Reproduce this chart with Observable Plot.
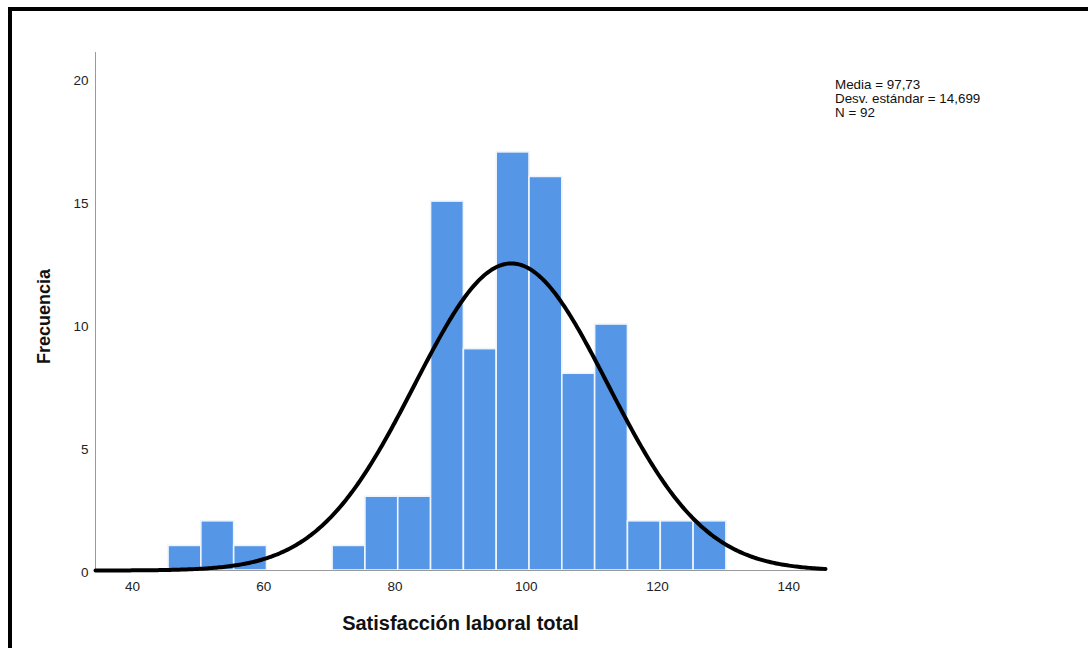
<!DOCTYPE html>
<html>
<head>
<meta charset="utf-8">
<script src="https://cdn.jsdelivr.net/npm/d3@7"></script>
<script src="https://cdn.jsdelivr.net/npm/@observablehq/plot@0.6"></script>
<style>
  html, body { margin: 0; padding: 0; background: white; }
  #wrap { position: relative; width: 1088px; height: 648px; overflow: hidden; }
  #frame { position: absolute; left: 8px; top: 7px; width: 1090px; height: 650px;
           border-top: 4px solid #000; border-left: 4px solid #000; pointer-events: none; }
  #stats { position: absolute; left: 835px; top: 78px; font-family: "Liberation Sans", Arial, sans-serif;
           font-size: 13.4px; line-height: 14px; color: #111; white-space: pre; }
  #chart { position: absolute; left: 0; top: 0; }
</style>
</head>
<body>
<div id="wrap">
  <div id="chart"></div>
  <div id="frame"></div>
  <div id="stats"></div>
</div>
<script>
// Histogram bins (left edges, width 5) and frequencies
const binStarts = [45.5, 50.5, 55.5, 60.5, 65.5, 70.5, 75.5, 80.5, 85.5, 90.5, 95.5, 100.5, 105.5, 110.5, 115.5, 120.5, 125.5];
const counts    = [1,    2,    1,    0,    0,    1,    3,    3,    15,   9,    17,   16,    8,     10,    2,     2,     2];
const binWidth = 5;

// Summary statistics shown on the chart
const mean = 97.73;
const sd = 14.699;
const n = 92;
const statsLines = ["Media = 97,73", "Desv. estándar = 14,699", "N = 92"];

const xTicks = [40, 60, 80, 100, 120, 140];
const yTicks = [0, 5, 10, 15, 20];
const xDomain = [34.37, 145.6];
const yDomain = [0, 21.06];

const xTitle = "Satisfacción laboral total";
const yTitle = "Frecuencia";

const bars = binStarts.map((s, i) => ({x1: s, x2: s + binWidth, y: counts[i]}));

// Fitted normal curve (from the stated mean, sd and N)
const curve = [];
for (let k = 0; k <= 400; k++) {
  const x = xDomain[0] + (xDomain[1] - xDomain[0]) * k / 400;
  const z = (x - mean) / sd;
  curve.push({x, y: n * binWidth * Math.exp(-0.5 * z * z) / (sd * Math.sqrt(2 * Math.PI))});
}

const chart = Plot.plot({
  width: 1088,
  height: 648,
  marginLeft: 95,
  marginRight: 263,
  marginTop: 52,
  marginBottom: 78,
  style: {fontFamily: "'Liberation Sans', Arial, sans-serif", fontSize: "13.5px", color: "#222", background: "white"},
  x: {domain: xDomain},
  y: {domain: yDomain},
  marks: [
    Plot.axisX({ticks: xTicks, tickSize: 0, tickPadding: 11, label: null}),
    Plot.axisY({ticks: yTicks, tickSize: 0, tickPadding: 7, dy: 2, label: null}),
    Plot.rectY(bars, {x1: "x1", x2: "x2", y: "y", fill: "#5596E6", stroke: "#eef4fc", strokeWidth: 1.6}),
    Plot.ruleY([0], {stroke: "#9a9a9a", strokeWidth: 1}),
    Plot.ruleX([xDomain[0]], {stroke: "#9a9a9a", strokeWidth: 1}),
    Plot.line(curve, {x: "x", y: "y", stroke: "#000", strokeWidth: 4}),
    Plot.text([xTitle], {frameAnchor: "bottom", dy: 53, lineAnchor: "middle", textAnchor: "middle",
                         fontSize: 20, fontWeight: "bold", fill: "#111"}),
    Plot.text([yTitle], {frameAnchor: "left", rotate: -90, dx: -51, dy: 5, textAnchor: "middle", lineAnchor: "middle",
                         fontSize: 18, fontWeight: "bold", fill: "#111"})
  ]
});
document.getElementById("chart").appendChild(chart);
document.getElementById("stats").textContent = statsLines.join("\n");
</script>
</body>
</html>
